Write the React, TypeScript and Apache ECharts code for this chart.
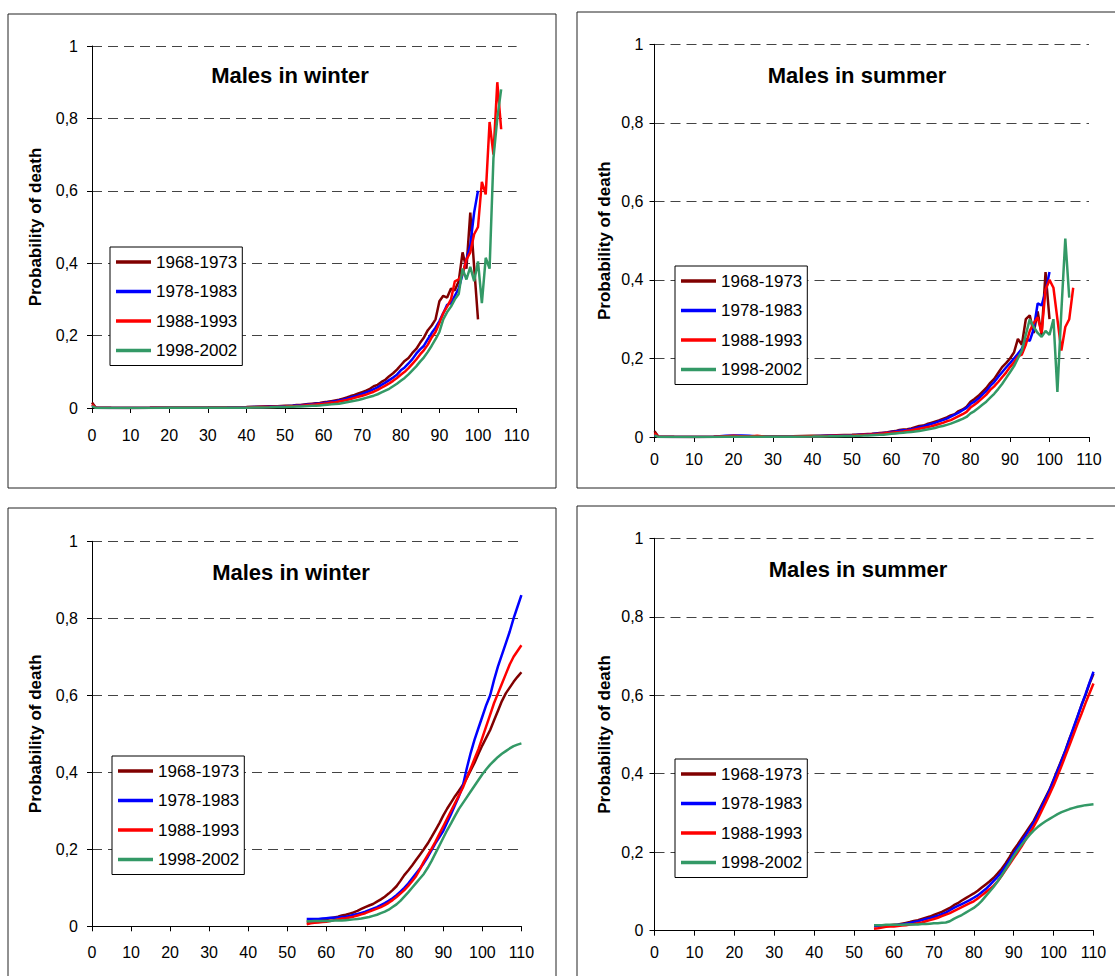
import React, { useEffect, useRef } from "react";
import * as echarts from "echarts";

// ---------- data ----------
const periods = ["1968-1973", "1978-1983", "1988-1993", "1998-2002"];
const colors = ["#800000", "#0000ff", "#ff0000", "#339966"];
const titles = ["Males in winter", "Males in summer", "Males in winter", "Males in summer"];
const xTicks = [0, 10, 20, 30, 40, 50, 60, 70, 80, 90, 100, 110];
const yTickLabels = ["0", "0,2", "0,4", "0,6", "0,8", "1"];

const ageWinterTop = [0, 1, 5, 10, 15, 20, 25, 30, 35, 40, 42, 44, 46, 48,
  50, 51, 52, 53, 54, 55, 56, 57, 58, 59, 60, 61, 62, 63, 64, 65, 66, 67, 68, 69,
  70, 71, 72, 73, 74, 75, 76, 77, 78, 79, 80, 81, 82, 83, 84, 85, 86, 87, 88, 89,
  90, 91, 92, 93, 94, 95, 96, 97, 98, 99, 100, 101, 102, 103, 104, 105, 106];

const wtDark = [0.015, 0.001, 0.0005, 0.0003, 0.0006, 0.001, 0.001, 0.0012, 0.0018, 0.003, 0.0035, 0.004, 0.0045, 0.005,
  0.006, 0.0065, 0.007, 0.008, 0.0085, 0.010, 0.011, 0.012, 0.013, 0.014,
  0.016, 0.017, 0.019, 0.021, 0.023, 0.026, 0.029, 0.033, 0.036, 0.040,
  0.044, 0.048, 0.053, 0.060, 0.064, 0.072, 0.078, 0.088, 0.096, 0.106,
  0.118, 0.130, 0.138, 0.152, 0.163, 0.180, 0.195, 0.215, 0.228, 0.245,
  0.295, 0.310, 0.305, 0.330, 0.325, 0.350, 0.430, 0.385, 0.540, 0.390, 0.245,
  null, null, null, null, null, null];
const wtBlue = [0.008, 0.0005, 0.0003, 0.0002, 0.0004, 0.0008, 0.0008, 0.001, 0.0014, 0.002, 0.0025, 0.003, 0.0035, 0.004,
  0.005, 0.0055, 0.006, 0.0068, 0.0075, 0.0085, 0.0095, 0.0105, 0.0115, 0.0125,
  0.014, 0.0155, 0.017, 0.019, 0.021, 0.023, 0.026, 0.029, 0.032, 0.035,
  0.039, 0.043, 0.047, 0.052, 0.057, 0.064, 0.070, 0.077, 0.084, 0.092,
  0.104, 0.112, 0.123, 0.135, 0.150, 0.162, 0.172, 0.190, 0.207, 0.222,
  0.240, 0.262, 0.285, 0.290, 0.310, 0.330, 0.370, 0.410, 0.450, 0.540, 0.600,
  null, null, null, null, null, null];
const wtRed = [0.010, 0.0005, 0.0003, 0.0002, 0.0004, 0.0007, 0.0007, 0.0008, 0.001, 0.0015, 0.002, 0.0025, 0.003, 0.0035,
  0.004, 0.0045, 0.005, 0.0055, 0.006, 0.007, 0.008, 0.009, 0.010, 0.011,
  0.012, 0.013, 0.015, 0.016, 0.018, 0.020, 0.022, 0.025, 0.028, 0.031,
  0.034, 0.037, 0.041, 0.045, 0.050, 0.056, 0.062, 0.068, 0.075, 0.083,
  0.092, 0.100, 0.110, 0.122, 0.134, 0.148, 0.160, 0.175, 0.195, 0.210,
  0.235, 0.262, 0.280, 0.300, 0.350, 0.355, 0.370, 0.410, 0.430, 0.480,
  0.500, 0.625, 0.590, 0.790, 0.700, 0.900, 0.770];
const wtGreen = [0.005, 0.0003, 0.0002, 0.0001, 0.0003, 0.0005, 0.0005, 0.0006, 0.0008, 0.001, 0.0013, 0.0016, 0.002, 0.0025,
  0.003, 0.0033, 0.0036, 0.004, 0.0044, 0.005, 0.0055, 0.006, 0.0065, 0.0072,
  0.008, 0.009, 0.010, 0.011, 0.012, 0.014, 0.016, 0.018, 0.020, 0.022,
  0.025, 0.028, 0.031, 0.034, 0.038, 0.043, 0.048, 0.053, 0.060, 0.067,
  0.075, 0.083, 0.093, 0.104, 0.115, 0.128, 0.140, 0.155, 0.172, 0.190,
  0.210, 0.245, 0.265, 0.280, 0.300, 0.315, 0.385, 0.355, 0.390, 0.350,
  0.405, 0.290, 0.415, 0.385, 0.690, 0.800, 0.880];

const ageSummerTop = [0, 1, 5, 10, 15, 18, 20, 22, 24, 26, 28, 30, 35, 40, 42, 44, 46, 48,
  50, 51, 52, 53, 54, 55, 56, 57, 58, 59, 60, 61, 62, 63, 64, 65, 66, 67, 68, 69,
  70, 71, 72, 73, 74, 75, 76, 77, 78, 79, 80, 81, 82, 83, 84, 85, 86, 87, 88, 89,
  90, 91, 92, 93, 94, 95, 96, 97, 98, 99, 100, 101, 102, 103, 104, 105, 106];

const stDark = [0.015, 0.001, 0.0004, 0.0003, 0.0005, 0.001, 0.0012, 0.0012, 0.0012, 0.0012, 0.0012, 0.0013, 0.0018, 0.003, 0.0035, 0.004, 0.0045, 0.005,
  0.0055, 0.006, 0.0065, 0.007, 0.0075, 0.008, 0.009, 0.010, 0.011, 0.012,
  0.014, 0.015, 0.018, 0.019, 0.020, 0.022, 0.025, 0.028, 0.029, 0.033,
  0.036, 0.039, 0.042, 0.046, 0.050, 0.055, 0.058, 0.066, 0.070, 0.077,
  0.090, 0.097, 0.105, 0.115, 0.125, 0.138, 0.148, 0.163, 0.178, 0.188,
  0.200, 0.215, 0.250, 0.235, 0.300, 0.310, 0.265, 0.320, 0.260, 0.420, 0.300,
  null, null, null, null, null, null];
const stBlue = [0.006, 0.0005, 0.0003, 0.0002, 0.0004, 0.003, 0.004, 0.004, 0.003, 0.001, 0.0009, 0.0009, 0.0012, 0.002, 0.0025, 0.003, 0.0035, 0.004,
  0.0045, 0.005, 0.0055, 0.006, 0.0065, 0.007, 0.008, 0.009, 0.010, 0.011,
  0.013, 0.014, 0.016, 0.017, 0.018, 0.020, 0.022, 0.025, 0.027, 0.030,
  0.033, 0.036, 0.040, 0.043, 0.047, 0.052, 0.057, 0.062, 0.068, 0.074,
  0.084, 0.090, 0.098, 0.108, 0.117, 0.130, 0.140, 0.153, 0.165, 0.177,
  0.188, 0.200, 0.212, 0.225, 0.250, 0.245, 0.275, 0.340, 0.335, 0.370, 0.420,
  null, null, null, null, null, null];
const stRed = [0.010, 0.0005, 0.0003, 0.0002, 0.0004, 0.002, 0.003, 0.002, 0.001, 0.003, 0.0008, 0.0008, 0.001, 0.0018, 0.002, 0.0025, 0.003, 0.0035,
  0.004, 0.0045, 0.005, 0.0055, 0.006, 0.0065, 0.007, 0.008, 0.009, 0.010,
  0.011, 0.012, 0.013, 0.014, 0.016, 0.017, 0.019, 0.021, 0.023, 0.025,
  0.027, 0.030, 0.033, 0.036, 0.040, 0.043, 0.048, 0.053, 0.058, 0.064,
  0.075, 0.082, 0.090, 0.099, 0.108, 0.120, 0.129, 0.140, 0.152, 0.164,
  0.178, 0.190, 0.205, 0.210, 0.235, 0.270, 0.290, 0.305, 0.265, 0.375,
  0.400, 0.380, 0.300, 0.220, 0.280, 0.300, 0.380];
const stGreen = [0.004, 0.0003, 0.0002, 0.0001, 0.0003, 0.0005, 0.0006, 0.0006, 0.0006, 0.0006, 0.0006, 0.0006, 0.0008, 0.001, 0.0013, 0.0016, 0.002, 0.0024,
  0.0028, 0.003, 0.0033, 0.0036, 0.004, 0.0045, 0.005, 0.0055, 0.006, 0.007,
  0.008, 0.009, 0.010, 0.011, 0.012, 0.013, 0.014, 0.015, 0.017, 0.019,
  0.021, 0.023, 0.026, 0.028, 0.031, 0.034, 0.038, 0.042, 0.046, 0.051,
  0.060, 0.066, 0.074, 0.082, 0.090, 0.100, 0.110, 0.122, 0.135, 0.150,
  0.165, 0.180, 0.200, 0.220, 0.260, 0.300, 0.280, 0.265, 0.255, 0.270,
  0.260, 0.300, 0.115, 0.320, 0.505, 0.355, null];

const ageBottom = [55, 56, 57, 58, 59, 60, 61, 62, 63, 64, 65, 66, 67, 68, 69,
  70, 71, 72, 73, 74, 75, 76, 77, 78, 79, 80, 81, 82, 83, 84, 85, 86, 87, 88, 89,
  90, 91, 92, 93, 94, 95, 96, 97, 98, 99, 100, 101, 102, 103, 104, 105, 106, 107, 108, 109, 110];

const bwDark = [0.012, 0.013, 0.015, 0.016, 0.018, 0.019, 0.021, 0.023, 0.025, 0.028,
  0.030, 0.033, 0.036, 0.040, 0.045, 0.050, 0.054, 0.058, 0.064, 0.070,
  0.077, 0.085, 0.094, 0.104, 0.118, 0.133, 0.145, 0.158, 0.172, 0.186,
  0.200, 0.215, 0.232, 0.250, 0.268, 0.288, 0.306, 0.322, 0.338, 0.352,
  0.367, 0.385, 0.405, 0.425, 0.448, 0.470, 0.490, 0.510, 0.535, 0.560,
  0.585, 0.605, 0.620, 0.635, 0.648, 0.660];
const bwBlue = [0.019, 0.019, 0.019, 0.019, 0.020, 0.021, 0.022, 0.022, 0.023, 0.024,
  0.025, 0.027, 0.030, 0.032, 0.035, 0.038, 0.042, 0.046, 0.050, 0.055,
  0.060, 0.066, 0.073, 0.081, 0.090, 0.100, 0.111, 0.124, 0.137, 0.150,
  0.164, 0.180, 0.198, 0.216, 0.232, 0.248, 0.270, 0.292, 0.315, 0.338,
  0.365, 0.410, 0.450, 0.485, 0.515, 0.545, 0.575, 0.600, 0.640, 0.675,
  0.705, 0.735, 0.765, 0.800, 0.830, 0.860];
const bwRed = [0.005, 0.008, 0.009, 0.010, 0.011, 0.012, 0.014, 0.016, 0.018, 0.020,
  0.021, 0.023, 0.025, 0.028, 0.031, 0.034, 0.038, 0.042, 0.046, 0.050,
  0.055, 0.061, 0.068, 0.076, 0.085, 0.094, 0.105, 0.117, 0.130, 0.148,
  0.168, 0.185, 0.202, 0.220, 0.240, 0.260, 0.280, 0.300, 0.320, 0.340,
  0.360, 0.385, 0.410, 0.435, 0.460, 0.490, 0.520, 0.550, 0.580, 0.605,
  0.630, 0.655, 0.680, 0.700, 0.715, 0.730];
const bwGreen = [0.013, 0.013, 0.014, 0.014, 0.014, 0.014, 0.014, 0.015, 0.015, 0.015,
  0.016, 0.017, 0.018, 0.019, 0.020, 0.022, 0.024, 0.027, 0.030, 0.034,
  0.038, 0.043, 0.050, 0.057, 0.066, 0.077, 0.088, 0.100, 0.112, 0.124,
  0.136, 0.152, 0.170, 0.190, 0.210, 0.230, 0.250, 0.268, 0.287, 0.305,
  0.320, 0.335, 0.350, 0.365, 0.380, 0.395, 0.408, 0.420, 0.430, 0.440,
  0.448, 0.455, 0.462, 0.468, 0.472, 0.475];

const bsDark = [0.012, 0.012, 0.013, 0.013, 0.014, 0.015, 0.016, 0.018, 0.020, 0.022,
  0.025, 0.027, 0.030, 0.033, 0.036, 0.040, 0.044, 0.048, 0.053, 0.058,
  0.065, 0.070, 0.077, 0.083, 0.089, 0.095, 0.102, 0.110, 0.118, 0.126,
  0.135, 0.146, 0.158, 0.172, 0.188, 0.206, 0.220, 0.235, 0.250, 0.265,
  0.280, 0.300, 0.320, 0.340, 0.360, 0.385, 0.410, 0.435, 0.460, 0.490,
  0.515, 0.545, 0.575, 0.600, 0.630, 0.655];
const bsBlue = [0.012, 0.012, 0.013, 0.013, 0.014, 0.014, 0.015, 0.016, 0.018, 0.020,
  0.022, 0.024, 0.027, 0.030, 0.032, 0.035, 0.038, 0.042, 0.046, 0.052,
  0.058, 0.063, 0.068, 0.073, 0.078, 0.084, 0.090, 0.098, 0.106, 0.116,
  0.127, 0.138, 0.150, 0.165, 0.180, 0.196, 0.212, 0.228, 0.243, 0.259,
  0.275, 0.295, 0.316, 0.337, 0.358, 0.383, 0.408, 0.433, 0.460, 0.488,
  0.518, 0.546, 0.575, 0.603, 0.632, 0.660];
const bsRed = [0.005, 0.006, 0.008, 0.010, 0.011, 0.011, 0.012, 0.013, 0.014, 0.016,
  0.017, 0.019, 0.021, 0.024, 0.027, 0.030, 0.033, 0.037, 0.041, 0.045,
  0.050, 0.055, 0.060, 0.065, 0.070, 0.075, 0.082, 0.090, 0.098, 0.106,
  0.115, 0.126, 0.140, 0.155, 0.170, 0.185, 0.200, 0.215, 0.232, 0.248,
  0.265, 0.284, 0.305, 0.326, 0.348, 0.370, 0.395, 0.420, 0.447, 0.473,
  0.500, 0.527, 0.553, 0.580, 0.605, 0.630];
const bsGreen = [0.014, 0.014, 0.014, 0.015, 0.015, 0.015, 0.015, 0.015, 0.016, 0.016,
  0.016, 0.016, 0.017, 0.017, 0.018, 0.019, 0.019, 0.020, 0.021, 0.024,
  0.030, 0.035, 0.040, 0.046, 0.052, 0.058, 0.066, 0.076, 0.088, 0.100,
  0.112, 0.126, 0.141, 0.157, 0.173, 0.190, 0.205, 0.219, 0.232, 0.244,
  0.255, 0.264, 0.272, 0.279, 0.285, 0.291, 0.297, 0.302, 0.306, 0.310,
  0.313, 0.316, 0.318, 0.320, 0.321, 0.322];

const panelAges = [ageWinterTop, ageSummerTop, ageBottom, ageBottom];
const panelValues = [
  [wtDark, wtBlue, wtRed, wtGreen],
  [stDark, stBlue, stRed, stGreen],
  [bwDark, bwBlue, bwRed, bwGreen],
  [bsDark, bsBlue, bsRed, bsGreen],
];

// ---------- layout ----------
const FONT = "'Liberation Sans', Arial, Helvetica, sans-serif";
const grids = [
  { left: 92, top: 46, width: 424.6, height: 362 },
  { left: 654.5, top: 44.3, width: 434.5, height: 392.7 },
  { left: 92, top: 541.3, width: 429.4, height: 385 },
  { left: 654.5, top: 538.3, width: 439, height: 392.4 },
];
const frames = [
  { x: 8, y: 14, width: 548, height: 474 },
  { x: 577, y: 12, width: 560, height: 476 },
  { x: 8, y: 508, width: 548, height: 500 },
  { x: 577, y: 506, width: 560, height: 500 },
];
const titlePos = [
  [290, 75],
  [857, 75],
  [291, 572],
  [858, 569],
];
const legendPos = [
  { left: 110, top: 247 },
  { left: 675, top: 266 },
  { left: 112, top: 756 },
  { left: 675, top: 759 },
];
const yLabelMargin = [14, 11, 14, 11];
const xLabelMargin = [19, 14, 18, 14];
const nameGaps = [48, 42, 48, 42];

export default function App() {
  const ref = useRef<HTMLDivElement>(null);
  useEffect(() => {
    if (!ref.current) return;
    const chart = echarts.init(ref.current, null, { renderer: "svg" });

    const series: any[] = [];
    panelValues.forEach((vals, p) => {
      vals.forEach((arr, s) => {
        const data: any[] = [];
        arr.forEach((v, i) => {
          if (v !== null && v !== undefined) data.push([panelAges[p][i], v]);
        });
        series.push({
          type: "line",
          name: periods[s],
          xAxisIndex: p,
          yAxisIndex: p,
          data,
          symbol: "none",
          showSymbol: false,
          smooth: false,
          lineStyle: { color: colors[s], width: 2.5 },
          itemStyle: { color: colors[s] },
          emphasis: { disabled: true },
          z: 3 + s,
        });
      });
    });

    const option: any = {
      animation: false,
      backgroundColor: "#ffffff",
      textStyle: { fontFamily: FONT },
      grid: grids.map((g) => ({ ...g, containLabel: false, outerBoundsMode: "none" })),
      xAxis: grids.map((_, p) => ({
        type: "value",
        gridIndex: p,
        min: xTicks[0],
        max: xTicks[xTicks.length - 1],
        interval: 10,
        axisLine: { show: true, onZero: false, lineStyle: { color: "#000", width: 1 } },
        axisTick: { show: true, inside: false, length: 5, lineStyle: { color: "#000" } },
        axisLabel: {
          margin: xLabelMargin[p],
          fontSize: 16,
          color: "#000",
          fontFamily: FONT,
          formatter: (v: number) => String(v),
        },
        splitLine: { show: false },
      })),
      yAxis: grids.map((_, p) => ({
        type: "value",
        gridIndex: p,
        min: 0,
        max: 1,
        interval: 0.2,
        name: "Probability of death",
        nameLocation: "middle",
        nameGap: nameGaps[p],
        nameMoveOverlap: false,
        nameTextStyle: { fontSize: 17, fontWeight: "bold", color: "#000", fontFamily: FONT },
        axisLine: { show: true, lineStyle: { color: "#000", width: 1 } },
        axisTick: { show: true, inside: false, length: 5, lineStyle: { color: "#000" } },
        axisLabel: {
          margin: yLabelMargin[p],
          fontSize: 16,
          color: "#000",
          fontFamily: FONT,
          formatter: (v: number) => yTickLabels[Math.round(v / 0.2)],
        },
        splitLine: { show: true, lineStyle: { color: "#444", width: 1, type: [10, 6] } },
      })),
      legend: legendPos.map((lp) => ({
        ...lp,
        orient: "vertical",
        data: periods.map((n) => ({ name: n, icon: "rect" })),
        padding: [6, 5, 6, 6],
        itemGap: 11.5,
        itemWidth: 35,
        itemHeight: 3.5,
        backgroundColor: "#fff",
        borderColor: "#000",
        borderWidth: 1,
        borderRadius: 0,
        selectedMode: false,
        textStyle: { fontSize: 17, color: "#000", fontFamily: FONT, lineHeight: 18 },
      })),
      graphic: [
        ...frames.map((f) => ({
          type: "rect",
          shape: f,
          silent: true,
          z: 0,
          style: { fill: "none", stroke: "#222", lineWidth: 1 },
        })),
        ...titlePos.map((tp, p) => ({
          type: "text",
          x: tp[0],
          y: tp[1],
          silent: true,
          z: 10,
          style: {
            text: titles[p],
            fill: "#000",
            font: `bold 22px ${FONT}`,
            align: "center",
            verticalAlign: "middle",
          },
        })),
      ],
      series,
    };
    chart.setOption(option);
    return () => chart.dispose();
  }, []);
  return (
    <div
      ref={ref}
      style={{ position: "fixed", left: 0, top: 0, width: 1115, height: 976, background: "#fff" }}
    />
  );
}
